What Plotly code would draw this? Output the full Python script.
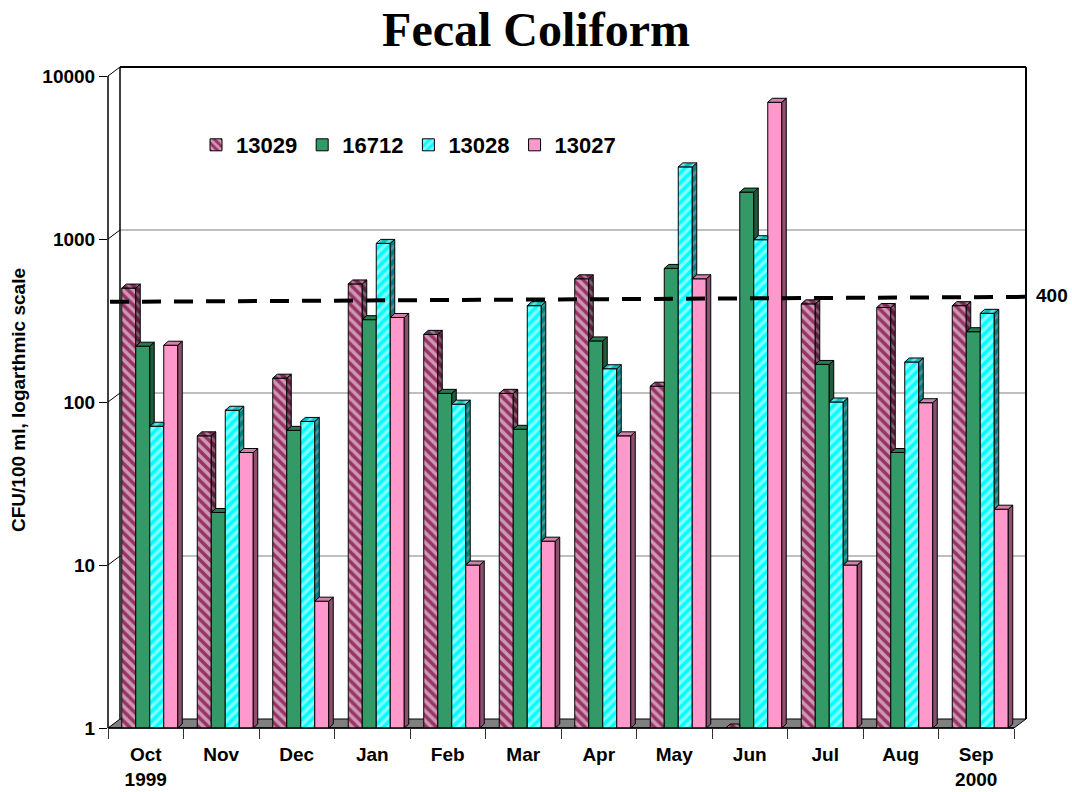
import math
import plotly.graph_objects as go

# ---- data ---------------------------------------------------------------
months = ["Oct", "Nov", "Dec", "Jan", "Feb", "Mar", "Apr", "May", "Jun", "Jul", "Aug", "Sep"]
month_labels = ["Oct<br>1999", "Nov", "Dec", "Jan", "Feb", "Mar", "Apr", "May",
                "Jun", "Jul", "Aug", "Sep<br>2000"]
stations = ["13029", "16712", "13028", "13027"]

s13029 = [500, 62, 140, 530, 260, 113, 570, 125, 1, 400, 380, 390]
s16712 = [220, 21, 67, 320, 113, 68, 237, 660, 1940, 170, 49, 270]
s13028 = [71, 89, 76, 940, 97, 390, 160, 2770, 990, 100, 176, 350]
s13027 = [223, 49, 6, 330, 10, 14, 62, 570, 6900, 10, 99, 22]

y_ticks = [1, 10, 100, 1000, 10000]
limit = 400

series = [s13029, s16712, s13028, s13027]

# ---- styling per station -----------------------------------------------
front = [
    dict(color="#993366", pattern=dict(shape="\\", bgcolor="#993366", fgcolor="#ffffff", size=7, solidity=0.5)),
    dict(color="#339966", pattern=None),
    dict(color="#00ffff", pattern=dict(shape="/", bgcolor="#00ffff", fgcolor="#ffffff", size=7, solidity=0.5)),
    dict(color="#ff99cc", pattern=None),
]
side = [
    dict(color="#5c1f3d", pattern=dict(shape="\\", bgcolor="#5c1f3d", fgcolor="#a8a8a8", size=7, solidity=0.4)),
    dict(color="#1e5a3b", pattern=None),
    dict(color="#008080", pattern=dict(shape="/", bgcolor="#008080", fgcolor="#a8a8a8", size=7, solidity=0.4)),
    dict(color="#8c4f6e", pattern=None),
]
top = [
    dict(color="#7a2952", pattern=dict(shape="\\", bgcolor="#7a2952", fgcolor="#d8d8d8", size=7, solidity=0.4)),
    dict(color="#267a50", pattern=None),
    dict(color="#00c0c0", pattern=dict(shape="/", bgcolor="#00c0c0", fgcolor="#e0ffff", size=7, solidity=0.4)),
    dict(color="#d77fab", pattern=None),
]

# ---- geometry (pixels -> axis units) -------------------------------------
W, H = 1072, 792
ML, MT = 108, 67
PLOT_W, PLOT_H = 918, 661
CAT_PX = 75.5          # width of one month on the front plane
DEC_PX = 163.0         # height of one decade
x_lo = -0.5
x_hi = x_lo + PLOT_W / CAT_PX
y_top = PLOT_H / DEC_PX
wall_dx = 12 / CAT_PX
wall_dy = 9 / DEC_PX
bar_dx = 4.5 / CAT_PX
bar_dy = 4 / DEC_PX
bar_w = 14 / CAT_PX
group_off = -24 / CAT_PX
n = len(months)


def px(x):
    return (x - x_lo) / (x_hi - x_lo)


def py(logv):
    return logv / y_top


FONT = "Liberation Sans, Arial, sans-serif"
fig = go.Figure()

# front faces: real bar traces
for i, (name, vals) in enumerate(zip(stations, series)):
    marker = dict(color=front[i]["color"], line=dict(color="#000000", width=1))
    if front[i]["pattern"]:
        marker["pattern"] = front[i]["pattern"]
    fig.add_trace(go.Bar(
        x=list(range(n)), y=vals, name=name,
        width=bar_w, offset=group_off + i * bar_w,
        marker=marker, hoverinfo="x+y+name",
    ))

# side and top faces of each column
k = 10 ** bar_dy
for i, vals in enumerate(series):
    sx, sy, tx, ty = [], [], [], []
    for c in range(n):
        v = vals[c]
        x0 = c + group_off + i * bar_w
        x1 = x0 + bar_w
        nv = series[i + 1][c] if i < len(series) - 1 else None
        # right side face, hidden below the top of the neighbour on its right
        bottom = 1 if nv is None else (nv if nv < v else None)
        if bottom is not None:
            sx += [x1, x1 + bar_dx, x1 + bar_dx, x1, x1, None]
            sy += [bottom, bottom * k, v * k, v, bottom, None]
        # top face, clipped when the neighbour on its right is taller
        right = x1 if (nv is not None and nv > v) else x1 + bar_dx
        tx += [x0, x0 + bar_dx, right, x1, x0, None]
        ty += [v, v * k, v * k, v, v, None]
    for xs, ys, st in ((sx, sy, side[i]), (tx, ty, top[i])):
        tr = dict(x=xs, y=ys, mode="lines", fill="toself", fillcolor=st["color"],
                  line=dict(color="#000000", width=1), showlegend=False, hoverinfo="skip")
        if st["pattern"]:
            tr["fillpattern"] = st["pattern"]
        fig.add_trace(go.Scatter(**tr))

# 400 CFU reference line, running slightly back in depth
fig.add_trace(go.Scatter(
    x=[x_lo + 2 / CAT_PX, x_hi],
    y=[limit * 10 ** (2 / DEC_PX), limit * 10 ** (7 / DEC_PX)],
    mode="lines", line=dict(color="#000000", width=4, dash="19px,13px"),
    xaxis="x2", showlegend=False, hoverinfo="skip",
))

# ---- walls and floor ------------------------------------------------------
shapes = []
bx0 = px(x_lo + wall_dx)
floor = (f"M {px(x_lo)},{py(0)} L {px(n - 0.5)},{py(0)} "
         f"L {px(n - 0.5 + wall_dx)},{py(wall_dy)} L {bx0},{py(wall_dy)} Z")
shapes.append(dict(type="path", path=floor, xref="paper", yref="paper",
                   fillcolor="#808080", line=dict(color="#000000", width=1), layer="below"))
for d in range(1, 4):
    shapes.append(dict(type="line", xref="paper", yref="paper", x0=bx0, x1=1,
                       y0=py(d + wall_dy), y1=py(d + wall_dy),
                       line=dict(color="#808080", width=1), layer="below"))
for d in range(1, 5):
    shapes.append(dict(type="line", xref="paper", yref="paper", x0=0, x1=bx0,
                       y0=py(d), y1=py(d + wall_dy),
                       line=dict(color="#000000", width=1), layer="below"))
shapes += [
    dict(type="line", xref="paper", yref="paper", x0=bx0, x1=bx0, y0=py(wall_dy), y1=1,
         line=dict(color="#000000", width=1.5), layer="below"),
    dict(type="line", xref="paper", yref="paper", x0=bx0, x1=1, y0=1, y1=1,
         line=dict(color="#000000", width=2), layer="below"),
    dict(type="line", xref="paper", yref="paper", x0=1, x1=1, y0=py(wall_dy), y1=1,
         line=dict(color="#000000", width=2), layer="below"),
    dict(type="line", xref="paper", yref="paper", x0=0, x1=0, y0=py(0), y1=py(4),
         line=dict(color="#000000", width=1.5), layer="above"),
    dict(type="line", xref="paper", yref="paper", x0=0, x1=px(n - 0.5), y0=0, y1=0,
         line=dict(color="#000000", width=1.5), layer="above"),
]

annotations = [
    dict(text="<b>CFU/100 ml, logarthmic scale</b>", textangle=-90, xref="paper", yref="paper",
         x=(18 - ML) / PLOT_W, y=py((728 - 400) / DEC_PX), xanchor="center", yanchor="middle",
         showarrow=False, font=dict(family=FONT, size=19, color="#000000")),
    dict(text="<b>400</b>", xref="paper", yref="y", x=(1052 - ML) / PLOT_W,
         y=math.log10(limit) + 8 / DEC_PX, xanchor="center", yanchor="middle",
         showarrow=False, font=dict(family=FONT, size=19, color="#000000")),
]

fig.update_layout(
    width=W, height=H,
    margin=dict(l=ML, r=W - ML - PLOT_W, t=MT, b=H - MT - PLOT_H, pad=0, autoexpand=False),
    paper_bgcolor="#ffffff", plot_bgcolor="rgba(0,0,0,0)",
    barmode="overlay",
    title=dict(text="<b>Fecal Coliform</b>", x=0.5, xref="container", xanchor="center",
               y=1 - 29 / H, yanchor="middle",
               font=dict(family="Liberation Serif, Times New Roman, serif", size=48, color="#000000")),
    xaxis=dict(range=[x_lo, x_hi], tickvals=list(range(n)), ticktext=month_labels,
               ticks="", showgrid=False, zeroline=False, showline=False, automargin=False,
               tickfont=dict(family=FONT, size=19, color="#000000", weight="bold"),
               ticklabelstandoff=13, fixedrange=True),
    xaxis2=dict(range=[x_lo, x_hi], overlaying="x", anchor="y", side="bottom",
                tickvals=[c - 0.5 for c in range(n + 1)], ticks="outside", ticklen=10,
                tickcolor="#333333", tickwidth=1, showticklabels=False, automargin=False,
                showgrid=False, zeroline=False, showline=False, fixedrange=True),
    yaxis=dict(type="log", range=[0, y_top], tickvals=y_ticks,
               ticktext=[str(t) for t in y_ticks], ticks="outside", ticklen=8,
               tickcolor="#000000", tickwidth=1, showgrid=False, zeroline=False,
               showline=False, automargin=False,
               tickfont=dict(family=FONT, size=19, color="#000000", weight="bold"),
               fixedrange=True),
    legend=dict(orientation="h", x=(196 - ML) / PLOT_W, y=py((728 - 145) / DEC_PX),
                xanchor="left", yanchor="middle", bgcolor="rgba(0,0,0,0)",
                font=dict(family=FONT, size=22, color="#000000", weight="bold"),
                traceorder="normal"),
    shapes=shapes,
    annotations=annotations,
    showlegend=True,
)

fig.write_html("out.html")
